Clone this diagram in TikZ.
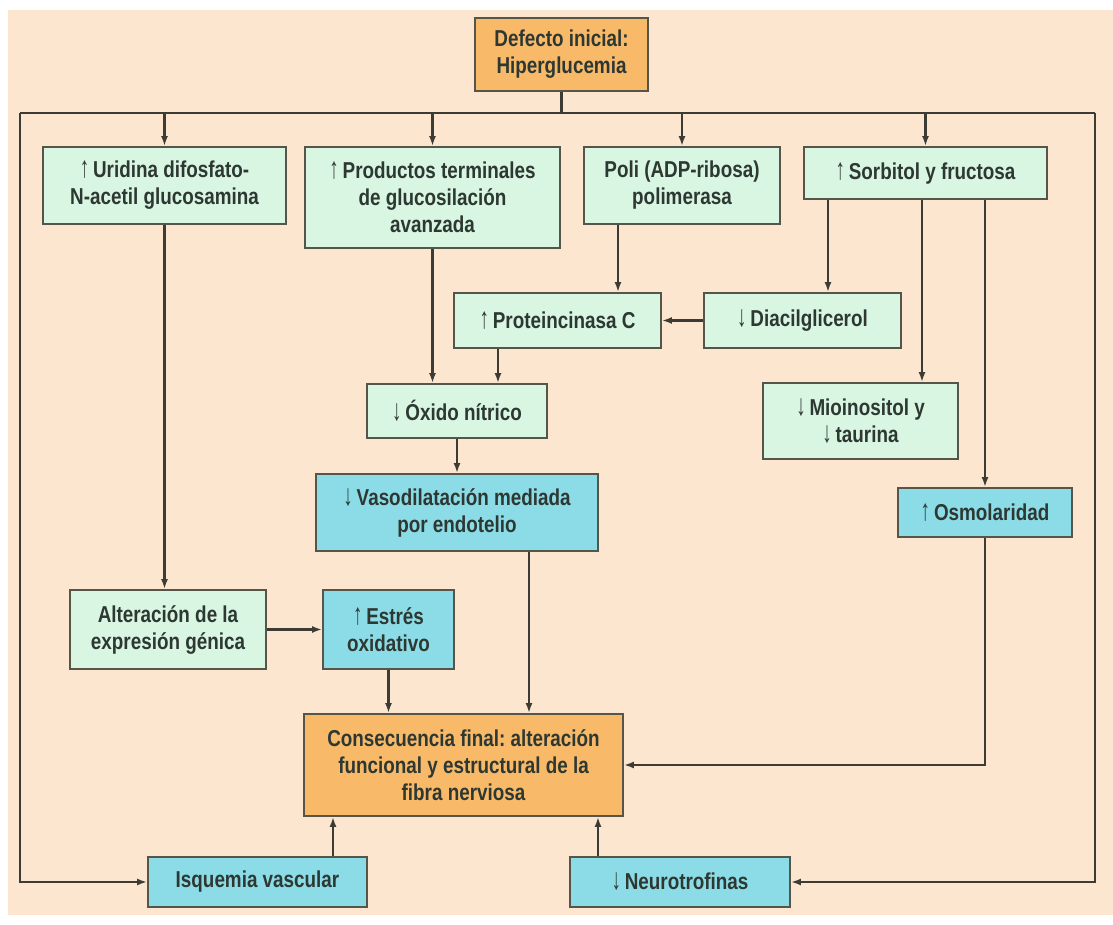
\documentclass[tikz,border=0pt]{standalone}
\usepackage{fontspec}
\setmainfont{Liberation Sans}[FakeStretch=0.82]
\usetikzlibrary{arrows.meta}

\definecolor{fondo}{HTML}{FDE6D0}
\definecolor{verde}{HTML}{D8F6E2}
\definecolor{azul}{HTML}{8BDCE6}
\definecolor{naranja}{HTML}{F8BA68}
\definecolor{borde}{HTML}{55554A}
\definecolor{texto}{HTML}{2E3833}

\newcommand{\upa}{\scalebox{1}[1.3]{\mdseries ↑}\,}
\newcommand{\dna}{\scalebox{1}[1.3]{\mdseries ↓}\,}

\tikzset{
  caja/.style={draw=borde, line width=1.8pt, align=center, inner sep=2pt, text=texto,
    font=\frenchspacing\bfseries\fontsize{23}{27}\selectfont},
  cverde/.style={caja, fill=verde},
  cazul/.style={caja, fill=azul},
  cnaranja/.style={caja, fill=naranja},
  linea/.style={draw=borde!70!black, line width=2.2pt},
  flecha/.style={linea, -{Latex[length=10pt,width=7pt]}},
}

\begin{document}
\begin{tikzpicture}[x=1pt, y=-1pt] %px
    \useasboundingbox (0,0) rectangle (1113,925);
    \fill[white] (0,0) rectangle (1113,925);
    \fill[fondo] (8,10) rectangle (1113,915);

    % cajas
    \node[cnaranja, minimum width=173pt, minimum height=73pt] (defecto) at (561.5,54.5) {Defecto inicial:\\Hiperglucemia};
    \node[cverde, minimum width=243pt, minimum height=77pt] (uridina) at (164.5,185.5) {\upa Uridina difosfato-\\N-acetil glucosamina};
    \node[cverde, minimum width=255pt, minimum height=101pt] (productos) at (432.5,197.5) {\upa Productos terminales\\de glucosilación\\avanzada};
    \node[cverde, minimum width=196pt, minimum height=77pt] (poli) at (682,185.5) {Poli (ADP-ribosa)\\polimerasa};
    \node[cverde, minimum width=243pt, minimum height=52pt] (sorbitol) at (925.5,173) {\upa Sorbitol y fructosa};
    \node[cverde, minimum width=207pt, minimum height=55pt] (proteina) at (557.5,320.5) {\upa Proteincinasa C};
    \node[cverde, minimum width=197pt, minimum height=55pt] (diacil) at (802.5,320.5) {\dna Diacilglicerol};
    \node[cverde, minimum width=180pt, minimum height=54pt] (oxido) at (457,411) {\dna Óxido nítrico};
    \node[cverde, minimum width=195pt, minimum height=76pt] (mioino) at (860.5,421) {\dna Mioinositol y\\\dna taurina};
    \node[cazul, minimum width=282pt, minimum height=77pt] (vaso) at (457,512.5) {\dna Vasodilatación mediada\\por endotelio};
    \node[cazul, minimum width=174pt, minimum height=49pt] (osmol) at (985,512.5) {\upa Osmolaridad};
    \node[cverde, minimum width=196pt, minimum height=79pt] (alter) at (168,629.5) {Alteración de la\\expresión génica};
    \node[cazul, minimum width=131pt, minimum height=79pt] (estres) at (388.5,629.5) {\upa Estrés\\oxidativo};
    \node[cnaranja, minimum width=319pt, minimum height=102pt] (consec) at (463.5,765) {Consecuencia final: alteración\\funcional y estructural de la\\fibra nerviosa};
    \node[cazul, minimum width=219pt, minimum height=50pt] (isquemia) at (257.5,882) {Isquemia vascular};
    \node[cazul, minimum width=220pt, minimum height=50pt] (neuro) at (680,882) {\dna Neurotrofinas};

    % columnas de las lineas
    \coordinate (izq) at (20,113);
    \coordinate (der) at (1095,113);
    \coordinate (xpoli) at (618,0);
    \coordinate (xdiacil) at (828,0);
    \coordinate (xmioino) at (922,0);
    \coordinate (xproteina) at (498,0);
    \coordinate (xvaso) at (529,0);
    \coordinate (xisq) at (333,0);
    \coordinate (xneuro) at (598,0);

    % reparto desde la hiperglucemia
    \draw[linea] (defecto.south) -- (defecto.south |- izq);
    \draw[linea] (izq) -- (der);
    \draw[flecha] (uridina.north |- izq) -- (uridina.north);
    \draw[flecha] (productos.north |- izq) -- (productos.north);
    \draw[flecha] (poli.north |- izq) -- (poli.north);
    \draw[flecha] (sorbitol.north |- izq) -- (sorbitol.north);
    \draw[flecha] (izq) |- (isquemia.west);
    \draw[flecha] (der) |- (neuro.east);

    % flechas intermedias
    \draw[flecha] (uridina.south) -- (uridina.south |- alter.north);
    \draw[flecha] (productos.south) -- (productos.south |- oxido.north);
    \draw[flecha] (poli.south -| xpoli) -- (proteina.north -| xpoli);
    \draw[flecha] (sorbitol.south -| xdiacil) -- (diacil.north -| xdiacil);
    \draw[flecha] (sorbitol.south -| xmioino) -- (mioino.north -| xmioino);
    \draw[flecha] (sorbitol.south -| osmol) -- (osmol.north);
    \draw[flecha] (diacil.west) -- (proteina.east);
    \draw[flecha] (proteina.south -| xproteina) -- (oxido.north -| xproteina);
    \draw[flecha] (oxido.south) -- (oxido.south |- vaso.north);
    \draw[flecha] (alter.east) -- (estres.west);

    % hacia la consecuencia final
    \draw[flecha] (vaso.south -| xvaso) -- (consec.north -| xvaso);
    \draw[flecha] (estres.south) -- (estres.south |- consec.north);
    \draw[flecha] (osmol.south) |- (consec.east);
    \draw[flecha] (isquemia.north -| xisq) -- (consec.south -| xisq);
    \draw[flecha] (neuro.north -| xneuro) -- (consec.south -| xneuro);
\end{tikzpicture}
\end{document}
